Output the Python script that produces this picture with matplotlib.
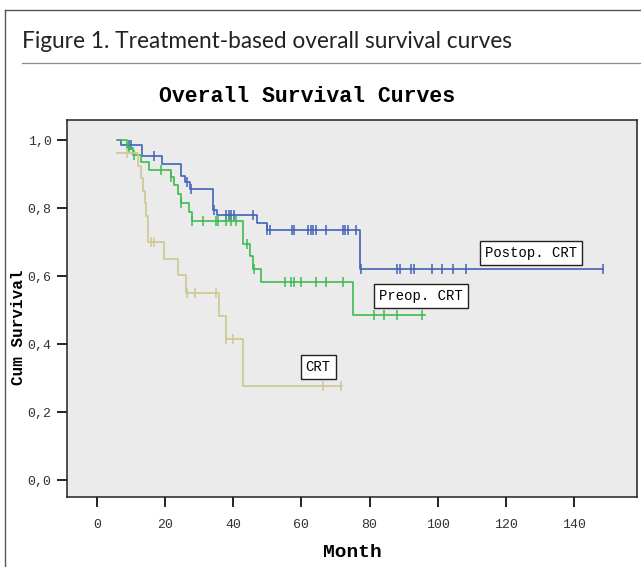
import numpy as np
import matplotlib
matplotlib.use('Agg')
import matplotlib.pyplot as plt
from matplotlib.lines import Line2D

# Kaplan-Meier steps: event time (month) -> survival after it
# last entry is the end of follow-up
post_t = [6.3, 7.0, 13.1, 19.0, 24.8, 25.8, 27.3, 34.1, 35.1, 46.9, 49.8, 77.2, 148.5]
post_s = [1.0, 0.985, 0.953, 0.931, 0.894, 0.877, 0.858, 0.796, 0.779, 0.757, 0.735, 0.621, 0.621]
post_cens = [9.4, 9.9, 16.8, 26.5, 27.5, 34.3, 38.0, 38.7, 39.4, 40.3, 45.9, 50.0, 50.7,
             57.1, 57.9, 62.0, 62.8, 63.5, 64.3, 67.1, 72.1, 72.9, 73.7, 76.1, 77.4,
             88.1, 88.9, 92.3, 93.1, 98.2, 101.3, 104.4, 108.3, 148.5]

pre_t = [6.0, 8.7, 10.5, 12.8, 15.3, 21.6, 22.6, 23.9, 24.6, 27.1, 27.9, 42.9, 44.9, 45.9, 48.0, 75.0, 96.3]
pre_s = [1.0, 0.978, 0.957, 0.935, 0.913, 0.891, 0.868, 0.843, 0.816, 0.789, 0.762, 0.694, 0.659,
         0.621, 0.583, 0.485, 0.485]
pre_cens = [9.3, 11.0, 18.8, 21.8, 24.8, 28.0, 31.0, 34.8, 35.6, 38.0, 39.3, 40.8, 43.9, 46.1,
            55.2, 56.9, 57.9, 60.0, 64.2, 67.2, 72.1, 81.2, 84.2, 88.0, 95.3]

crt_t = [5.8, 12.0, 12.8, 13.4, 14.0, 14.5, 15.1, 19.7, 23.7, 26.0, 35.8, 37.8, 42.9, 72.0]
crt_s = [0.963, 0.926, 0.889, 0.852, 0.815, 0.778, 0.701, 0.652, 0.603, 0.552, 0.483, 0.415, 0.277, 0.277]
crt_cens = [8.8, 15.9, 16.7, 26.3, 28.9, 34.9, 38.0, 40.0, 66.2, 71.5]

groups = ['Postop. CRT', 'Preop. CRT', 'CRT']
label_pos = [(127.4, 0.668), (95.1, 0.541), (64.9, 0.332)]
colors = ['#4163b8', '#3dbb4f', '#cdc890']

x_ticks = [0, 20, 40, 60, 80, 100, 120, 140]
y_ticks = [0.0, 0.2, 0.4, 0.6, 0.8, 1.0]
y_ticklabels = ['0,0', '0,2', '0,4', '0,6', '0,8', '1,0']

mono = 'Liberation Mono'

fig = plt.figure(figsize=(6.41, 5.67), dpi=100)

# outer frame + figure caption
fig.add_artist(Line2D([5/641, 5/641], [0, 1 - 10/567], transform=fig.transFigure, color='#555555', lw=1.0))
fig.add_artist(Line2D([5/641, 1], [1 - 10/567, 1 - 10/567], transform=fig.transFigure, color='#555555', lw=1.0))
fig.add_artist(Line2D([22/641, 1], [1 - 63/567, 1 - 63/567], transform=fig.transFigure, color='#8a8a8a', lw=0.9))
fig.text(22/641, 1 - 41/567, 'Figure 1. Treatment-based overall survival curves',
         family='Lato', fontsize=16.3, color='#222222', va='center', ha='left')

ax = fig.add_axes([67/641, 70/567, 570/641, 377/567])
ax.set_facecolor('#ebebeb')

curves = [(post_t, post_s, post_cens), (pre_t, pre_s, pre_cens), (crt_t, crt_s, crt_cens)]
for (t, s, cens), col in zip(curves, colors):
    t = np.array(t)
    s = np.array(s)
    ax.step(t, s, where='post', color=col, lw=1.2, zorder=3)
    idx = np.searchsorted(t, cens, side='right') - 1
    ax.plot(cens, s[idx], ls='none', marker='|', ms=7, mew=1.1, color=col, zorder=3)

for name, (lx, ly) in zip(groups, label_pos):
    ax.text(lx, ly, name, family=mono, fontsize=10, ha='center', va='center', zorder=5,
            bbox=dict(boxstyle='square,pad=0.35', fc='white', ec='#222222', lw=1.0))

ax.set_xlim(-8.8, 158.5)
ax.set_ylim(-0.05, 1.06)
ax.set_xticks(x_ticks)
ax.set_xticklabels([str(v) for v in x_ticks])
ax.set_yticks(y_ticks)
ax.set_yticklabels(y_ticklabels)
ax.tick_params(axis='x', direction='out', length=7, width=1.2, pad=9, labelsize=9.5, labelcolor='#333333')
ax.tick_params(axis='y', direction='out', length=7, width=1.2, pad=4, labelsize=9.5, labelcolor='#333333')
for lab in ax.get_xticklabels() + ax.get_yticklabels():
    lab.set_family(mono)
for sp in ax.spines.values():
    sp.set_linewidth(1.1)
    sp.set_color('#222222')

fig.text(307/641, 1 - 97/567, 'Overall Survival Curves', family=mono, fontweight='bold',
         fontsize=15.5, ha='center', va='center')
ax.set_xlabel('Month', family=mono, fontweight='bold', fontsize=14, labelpad=9)
ax.set_ylabel('Cum Survival', family=mono, fontweight='bold', fontsize=11.5)
ax.yaxis.set_label_coords(-0.072, 0.45)

fig.savefig('out.png', dpi=100)
